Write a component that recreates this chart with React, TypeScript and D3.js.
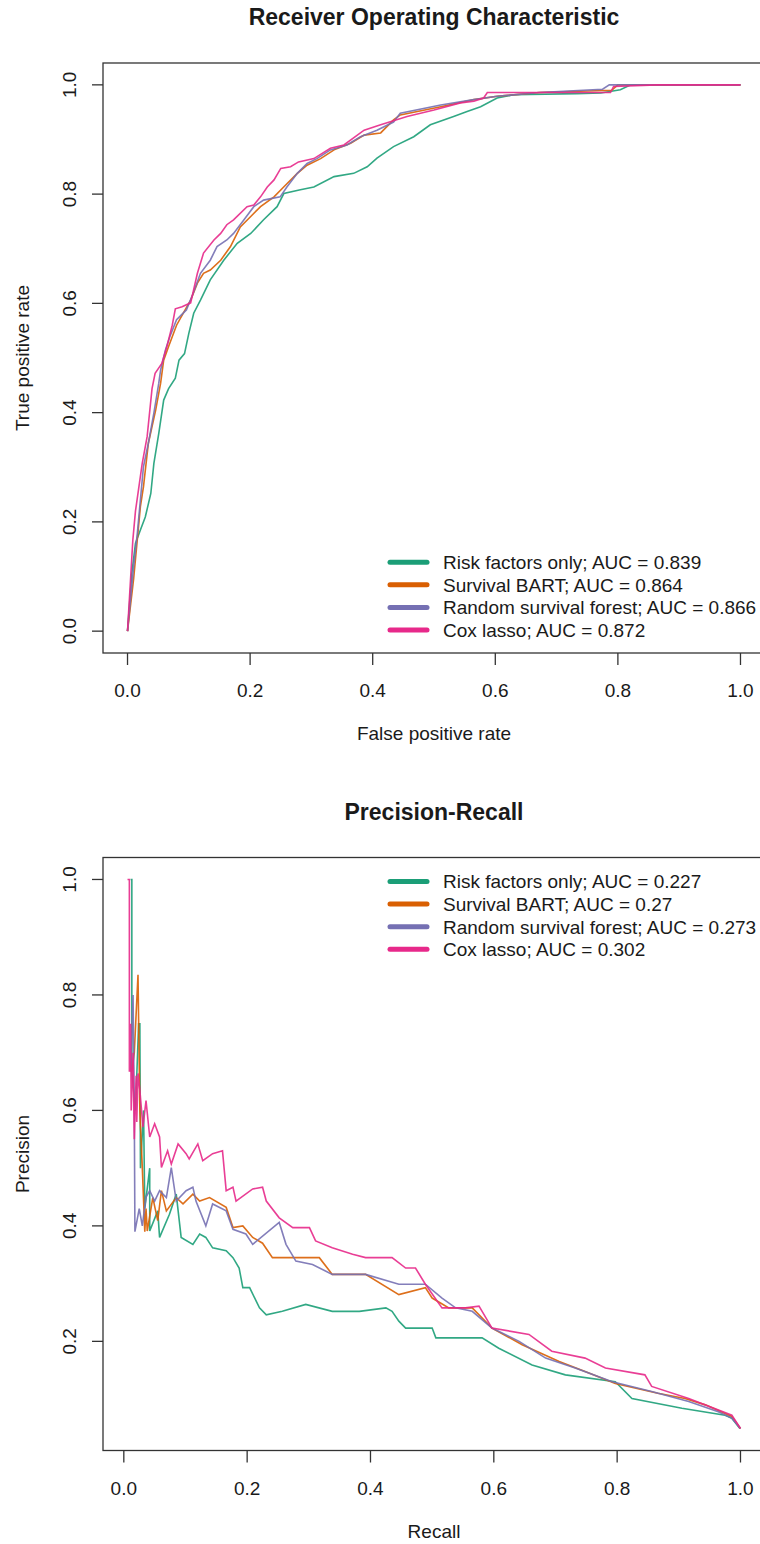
import React from "react";
import * as d3 from "d3";

const WIDTH = 760;
const HEIGHT = 1544;
const FONT = "'Liberation Sans', Arial, Helvetica, sans-serif";

const seriesNames = ["Risk factors only", "Survival BART", "Random survival forest", "Cox lasso"];
const seriesColors = ["#1B9E77", "#D95F02", "#7570B3", "#E7298A"];
const rocAuc = ["0.839", "0.864", "0.866", "0.872"];
const prAuc = ["0.227", "0.27", "0.273", "0.302"];
const unitTicks = [0, 0.2, 0.4, 0.6, 0.8, 1.0];
const prYTicks = [0.2, 0.4, 0.6, 0.8, 1.0];

// ROC curves: [false positive rate, true positive rate]
const rocRisk: [number, number][] = [
  [0, 0], [0.007, 0.106], [0.013, 0.161], [0.021, 0.185], [0.029, 0.209], [0.038, 0.252],
  [0.043, 0.307], [0.051, 0.362], [0.059, 0.423], [0.067, 0.444], [0.078, 0.463], [0.084, 0.496],
  [0.093, 0.508], [0.1, 0.545], [0.108, 0.582], [0.119, 0.606], [0.135, 0.643], [0.157, 0.679],
  [0.179, 0.71], [0.201, 0.728], [0.222, 0.753], [0.244, 0.777], [0.255, 0.801], [0.282, 0.808],
  [0.304, 0.813], [0.337, 0.832], [0.369, 0.838], [0.391, 0.85], [0.407, 0.866], [0.434, 0.887],
  [0.467, 0.905], [0.494, 0.927], [0.532, 0.942], [0.554, 0.951], [0.576, 0.96], [0.603, 0.976],
  [0.63, 0.982], [0.733, 0.984], [0.772, 0.985], [0.804, 0.991], [0.821, 1.0], [1, 1],
];
const rocBart: [number, number][] = [
  [0, 0], [0.01, 0.096], [0.021, 0.228], [0.026, 0.264], [0.034, 0.344], [0.046, 0.405],
  [0.054, 0.454], [0.059, 0.496], [0.067, 0.521], [0.08, 0.56], [0.091, 0.582], [0.103, 0.606],
  [0.114, 0.637], [0.124, 0.655], [0.135, 0.661], [0.152, 0.679], [0.168, 0.704], [0.184, 0.74],
  [0.201, 0.759], [0.217, 0.777], [0.239, 0.795], [0.26, 0.819], [0.277, 0.838], [0.293, 0.853],
  [0.315, 0.865], [0.337, 0.881], [0.364, 0.893], [0.386, 0.908], [0.413, 0.912], [0.434, 0.936],
  [0.445, 0.945], [0.511, 0.96], [0.565, 0.973], [0.603, 0.979], [0.672, 0.986], [0.79, 0.99],
  [0.8, 1.0], [1, 1],
];
const rocForest: [number, number][] = [
  [0, 0], [0.01, 0.118], [0.016, 0.179], [0.021, 0.24], [0.026, 0.301], [0.034, 0.344],
  [0.043, 0.399], [0.051, 0.454], [0.054, 0.478], [0.062, 0.515], [0.069, 0.539], [0.08, 0.57],
  [0.096, 0.588], [0.107, 0.618], [0.119, 0.655], [0.135, 0.679], [0.146, 0.704], [0.162, 0.716],
  [0.173, 0.728], [0.19, 0.753], [0.206, 0.777], [0.222, 0.789], [0.249, 0.795], [0.26, 0.813],
  [0.277, 0.838], [0.293, 0.856], [0.309, 0.865], [0.331, 0.881], [0.358, 0.89], [0.38, 0.905],
  [0.407, 0.917], [0.434, 0.932], [0.445, 0.948], [0.511, 0.963], [0.565, 0.973], [0.603, 0.979],
  [0.672, 0.986], [0.775, 0.992], [0.786, 1.0], [1, 1],
];
const rocLasso: [number, number][] = [
  [0, 0], [0.0087, 0.167], [0.013, 0.22], [0.024, 0.307], [0.032, 0.356], [0.04, 0.444],
  [0.045, 0.472], [0.056, 0.49], [0.064, 0.52], [0.073, 0.56], [0.078, 0.59], [0.089, 0.594],
  [0.103, 0.601], [0.114, 0.655], [0.124, 0.692], [0.141, 0.716], [0.152, 0.728], [0.162, 0.744],
  [0.173, 0.753], [0.195, 0.777], [0.206, 0.78], [0.217, 0.795], [0.228, 0.813], [0.239, 0.826],
  [0.25, 0.847], [0.266, 0.85], [0.279, 0.859], [0.304, 0.865], [0.331, 0.884], [0.353, 0.89],
  [0.386, 0.917], [0.413, 0.927], [0.456, 0.942], [0.5, 0.954], [0.543, 0.967], [0.565, 0.97],
  [0.581, 0.976], [0.587, 0.986], [0.788, 0.986], [0.793, 0.997], [0.864, 1.0], [1, 1],
];

// Precision-recall curves: [recall, precision]
const prRisk: [number, number][] = [
  [0.011, 1.0], [0.013, 1.0], [0.013, 0.667], [0.019, 0.6], [0.024, 0.75], [0.026, 0.75],
  [0.027, 0.5], [0.032, 0.6], [0.034, 0.43], [0.042, 0.5], [0.042, 0.391], [0.055, 0.426],
  [0.058, 0.38], [0.074, 0.42], [0.085, 0.455], [0.093, 0.38], [0.112, 0.368], [0.123, 0.386],
  [0.133, 0.38], [0.144, 0.362], [0.166, 0.357], [0.177, 0.345], [0.187, 0.327], [0.193, 0.293],
  [0.204, 0.293], [0.22, 0.258], [0.231, 0.246], [0.257, 0.252], [0.295, 0.264], [0.338, 0.252],
  [0.382, 0.252], [0.425, 0.258], [0.435, 0.252], [0.446, 0.235], [0.457, 0.223], [0.5, 0.223],
  [0.506, 0.206], [0.554, 0.206], [0.581, 0.206], [0.608, 0.188], [0.662, 0.159], [0.716, 0.142],
  [0.797, 0.13], [0.824, 0.101], [0.905, 0.084], [0.975, 0.072], [0.986, 0.067], [0.999, 0.049],
];
const prBart: [number, number][] = [
  [0.013, 0.667], [0.017, 0.7], [0.023, 0.835], [0.026, 0.6], [0.03, 0.5], [0.034, 0.39],
  [0.036, 0.43], [0.038, 0.391], [0.047, 0.449], [0.055, 0.409], [0.061, 0.461], [0.069, 0.426],
  [0.085, 0.449], [0.096, 0.438], [0.112, 0.455], [0.123, 0.443], [0.139, 0.449], [0.166, 0.432],
  [0.177, 0.397], [0.193, 0.4], [0.209, 0.38], [0.225, 0.37], [0.241, 0.345], [0.279, 0.345],
  [0.317, 0.345], [0.338, 0.316], [0.392, 0.316], [0.446, 0.281], [0.489, 0.293], [0.5, 0.275],
  [0.527, 0.258], [0.565, 0.258], [0.597, 0.223], [0.646, 0.194], [0.706, 0.165], [0.748, 0.148],
  [0.797, 0.127], [0.866, 0.11], [0.91, 0.101], [0.943, 0.09], [0.986, 0.07], [1.0, 0.049],
];
const prForest: [number, number][] = [
  [0.011, 0.667], [0.015, 0.8], [0.017, 0.6], [0.018, 0.39], [0.025, 0.43], [0.03, 0.4],
  [0.036, 0.45], [0.042, 0.461], [0.05, 0.443], [0.058, 0.461], [0.069, 0.449], [0.077, 0.501],
  [0.085, 0.443], [0.101, 0.461], [0.112, 0.467], [0.117, 0.443], [0.133, 0.4], [0.144, 0.438],
  [0.166, 0.426], [0.177, 0.394], [0.198, 0.386], [0.209, 0.368], [0.252, 0.406], [0.263, 0.368],
  [0.279, 0.339], [0.306, 0.333], [0.338, 0.316], [0.392, 0.316], [0.446, 0.299], [0.489, 0.299],
  [0.516, 0.275], [0.538, 0.258], [0.565, 0.252], [0.597, 0.223], [0.641, 0.2], [0.684, 0.171],
  [0.732, 0.154], [0.792, 0.13], [0.856, 0.113], [0.916, 0.096], [0.964, 0.078], [0.986, 0.067],
  [1.0, 0.049],
];
const prLasso: [number, number][] = [
  [0.006, 1.0], [0.009, 1.0], [0.009, 0.667], [0.011, 0.75], [0.012, 0.6], [0.015, 0.7],
  [0.017, 0.55], [0.02, 0.66], [0.021, 0.58], [0.023, 0.664], [0.026, 0.635], [0.031, 0.571],
  [0.036, 0.617], [0.042, 0.554], [0.05, 0.577], [0.058, 0.554], [0.061, 0.501], [0.071, 0.53],
  [0.077, 0.507], [0.088, 0.542], [0.101, 0.525], [0.106, 0.516], [0.12, 0.542], [0.128, 0.513],
  [0.144, 0.525], [0.16, 0.53], [0.166, 0.461], [0.177, 0.467], [0.182, 0.443], [0.209, 0.464],
  [0.225, 0.467], [0.231, 0.443], [0.252, 0.414], [0.274, 0.397], [0.301, 0.397], [0.311, 0.374],
  [0.338, 0.362], [0.371, 0.351], [0.392, 0.345], [0.435, 0.345], [0.457, 0.327], [0.473, 0.327],
  [0.489, 0.299], [0.516, 0.258], [0.554, 0.258], [0.576, 0.261], [0.597, 0.223], [0.657, 0.212],
  [0.694, 0.183], [0.748, 0.171], [0.781, 0.154], [0.845, 0.142], [0.856, 0.122], [0.916, 0.101],
  [0.986, 0.072], [1.0, 0.049],
];

const PLOT_LEFT = 103;
const PLOT_RIGHT = 765;

// R style: data range padded by 4% on each side
const padded = (ext: [number, number]): [number, number] => {
  const r = ext[1] - ext[0];
  return [ext[0] - 0.04 * r, ext[1] + 0.04 * r];
};

const Panel = ({ title, top, bottom, xLabel, yLabel, series, auc, xTicks, yTicks, legendAt }) => {
  const all = series.flat();
  const x = d3.scaleLinear().domain(padded(d3.extent(all, (d) => d[0]))).range([PLOT_LEFT, PLOT_RIGHT]);
  const y = d3.scaleLinear().domain(padded(d3.extent(all, (d) => d[1]))).range([bottom, top]);
  const path = d3.line<[number, number]>().x((d) => x(d[0])).y((d) => y(d[1]));
  const cx = (PLOT_LEFT + PLOT_RIGHT) / 2;
  const cy = (top + bottom) / 2;
  const rowGap = 22.6;
  const firstRow = legendAt === "top" ? top + 24 : bottom - 23 - rowGap * 3;

  return (
    <g fontFamily={FONT} fill="#1a1a1a">
      <text x={cx} y={top - 38} textAnchor="middle" fontSize={23} fontWeight="bold">
        {title}
      </text>
      {series.map((s, i) => (
        <path key={i} d={path(s)} fill="none" stroke={seriesColors[i]} strokeWidth={1.6} strokeOpacity={0.9} />
      ))}
      <rect x={PLOT_LEFT} y={top} width={PLOT_RIGHT - PLOT_LEFT} height={bottom - top} fill="none" stroke="#333" strokeWidth={1.3} />
      {xTicks.map((t) => (
        <g key={"x" + t}>
          <line x1={x(t)} x2={x(t)} y1={bottom} y2={bottom + 12} stroke="#333" strokeWidth={1.3} />
          <text x={x(t)} y={bottom + 44} textAnchor="middle" fontSize={19}>
            {t.toFixed(1)}
          </text>
        </g>
      ))}
      {yTicks.map((t) => (
        <g key={"y" + t}>
          <line x1={PLOT_LEFT} x2={PLOT_LEFT - 11} y1={y(t)} y2={y(t)} stroke="#333" strokeWidth={1.3} />
          <text transform={`translate(76,${y(t)}) rotate(-90)`} textAnchor="middle" fontSize={19}>
            {t.toFixed(1)}
          </text>
        </g>
      ))}
      <text x={cx} y={bottom + 87} textAnchor="middle" fontSize={19}>
        {xLabel}
      </text>
      <text transform={`translate(29,${cy}) rotate(-90)`} textAnchor="middle" fontSize={19}>
        {yLabel}
      </text>
      {seriesNames.map((name, i) => {
        const ry = firstRow + i * rowGap;
        return (
          <g key={name}>
            <line x1={PLOT_RIGHT - 375} x2={PLOT_RIGHT - 338} y1={ry} y2={ry} stroke={seriesColors[i]} strokeWidth={5} strokeLinecap="round" />
            <text x={PLOT_RIGHT - 322} y={ry + 6.8} fontSize={19}>
              {`${name}; AUC = ${auc[i]}`}
            </text>
          </g>
        );
      })}
    </g>
  );
};

export default function App() {
  return (
    <div style={{ position: "absolute", left: 0, top: 0 }}>
      <svg width={WIDTH} height={HEIGHT} style={{ display: "block", background: "#fff" }}>
        <Panel
          title="Receiver Operating Characteristic"
          top={63}
          bottom={653}
          xLabel="False positive rate"
          yLabel="True positive rate"
          series={[rocRisk, rocBart, rocForest, rocLasso]}
          auc={rocAuc}
          xTicks={unitTicks}
          yTicks={unitTicks}
          legendAt="bottom"
        />
        <Panel
          title="Precision-Recall"
          top={857.5}
          bottom={1450.5}
          xLabel="Recall"
          yLabel="Precision"
          series={[prRisk, prBart, prForest, prLasso]}
          auc={prAuc}
          xTicks={unitTicks}
          yTicks={prYTicks}
          legendAt="top"
        />
      </svg>
    </div>
  );
}
